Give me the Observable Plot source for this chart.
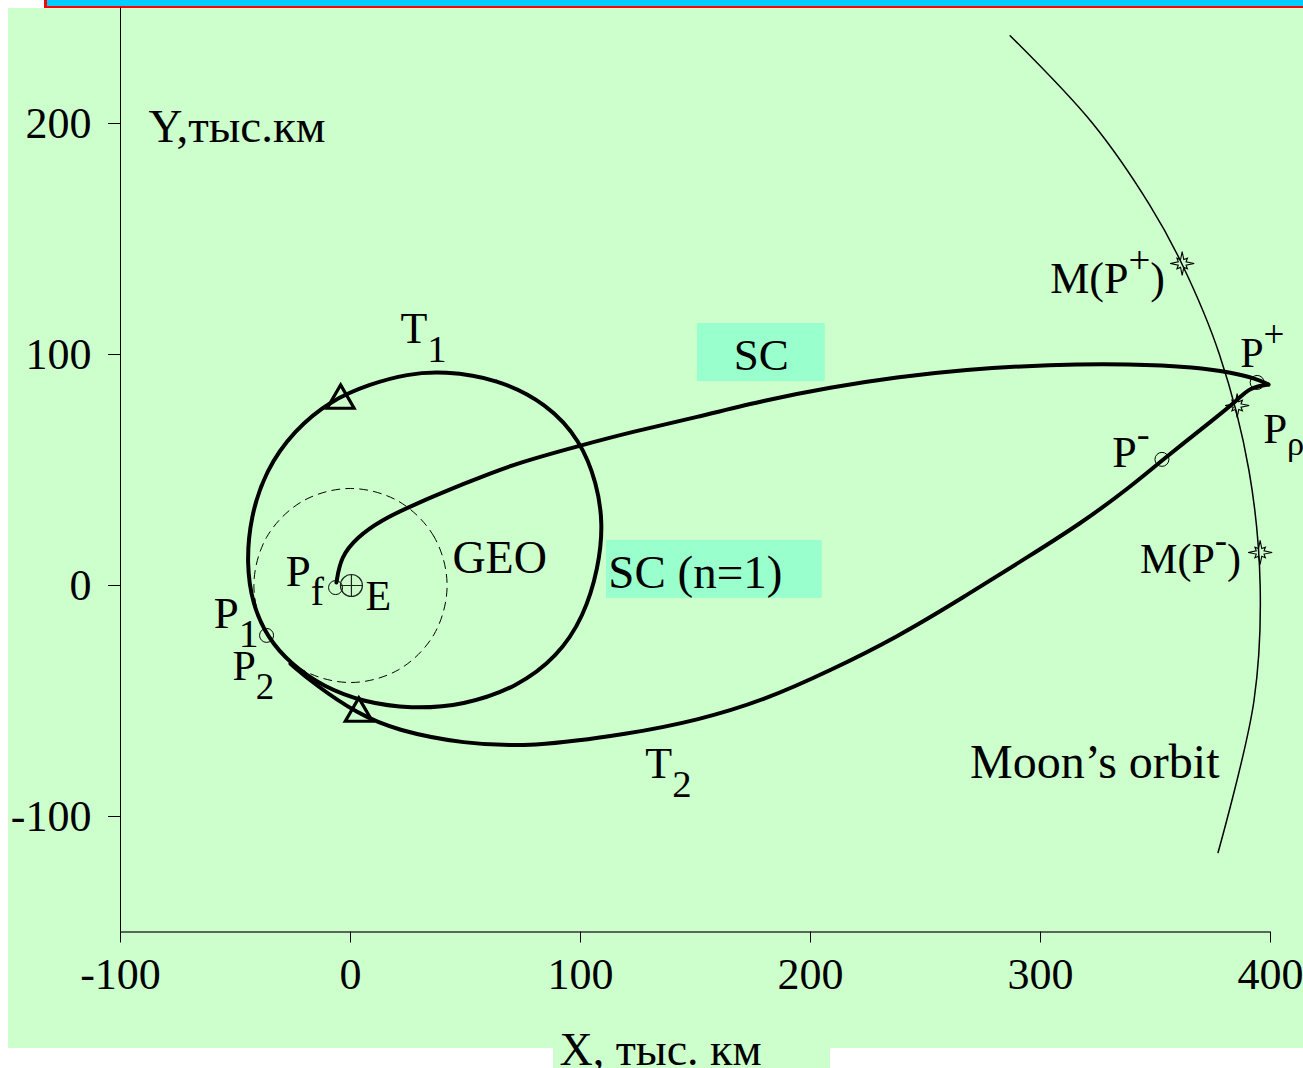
<!DOCTYPE html>
<html><head><meta charset="utf-8">
<script src="https://cdn.jsdelivr.net/npm/d3@7"></script>
<script src="https://cdn.jsdelivr.net/npm/@observablehq/plot@0.6"></script>
<style>
body{margin:0;background:#fff;}
#wrap{position:relative;width:1303px;height:1068px;overflow:hidden;}
#band{position:absolute;left:44px;top:-30px;width:1300px;height:33px;background:#00ccff;border:3px solid #ff0000;}
#panel{position:absolute;left:8px;top:8px;width:1310px;height:1040px;background:#ccffcc;}
#xbox{position:absolute;left:553px;top:1030px;width:277px;height:40px;background:#ccffcc;}
#chart{position:absolute;left:0;top:0;}
</style></head>
<body>
<div id="wrap"><div id="band"></div><div id="panel"></div><div id="xbox"></div><div id="chart"></div></div>
<script>
// ---- axis ticks ----
const xTicks = [-100, 0, 100, 200, 300, 400];
const yTicks = [-100, 0, 100, 200];
const xLabel = "X, тыс. км";

// ---- SC outbound leg (from Pf near Earth to the lunar flyby), thousand km ----
const scX = [-6.1, -4.3, 2.9, 13.0, 27.5, 49.2, 71.0, 100.0, 121.7, 150.7, 179.6, 208.6, 237.6, 266.5, 304.2, 339.0, 368.0, 382.4, 394.0, 399.1];
const scY = [1.3, 12.3, 20.9, 28.1, 35.0, 44.0, 52.7, 60.6, 66.4, 72.9, 80.1, 85.8, 90.2, 93.4, 95.7, 96.0, 94.5, 92.3, 89.5, 87.0];

// ---- T2 return leg (from the flyby back to P2) ----
const t2X = [399.1, 391.1, 385.4, 376.7, 352.8, 339.0, 317.3, 295.5, 266.5, 237.6, 208.6, 179.6, 150.7, 121.7, 78.2, 49.2, 20.3, 2.9, -15.9, -26.1];
const t2Y = [87.0, 85.8, 80.1, 73.0, 54.2, 42.6, 26.7, 13.0, -5.1, -22.4, -36.8, -49.8, -58.4, -64.2, -70.0, -68.5, -62.8, -55.5, -42.6, -33.9];

// ---- T1 closed orbit ----
const t1X = [40.5, 63.8, 85.5, 100.0, 107.2, 109.8, 107.9, 101.4, 89.8, 72.4, 49.2, 26.1, 5.8, -11.6, -26.1, -36.2, -42.7, -45.2, -43.5, -36.9, -24.6, -8.7, 8.7, 24.6];
const t1Y = [92.8, 89.5, 78.7, 62.8, 44.0, 26.7, 7.9, -13.7, -31.0, -44.0, -51.9, -53.4, -50.5, -44.0, -33.9, -22.4, -7.9, 9.4, 29.6, 49.8, 67.1, 80.1, 87.3, 91.6];

// ---- GEO orbit (dashed) ----
const geoX = [42, 36.4, 21, 0, -21, -36.4, -42, -36.4, -21, 0, 21, 36.4];
const geoY = [0, 21, 36.4, 42, 36.4, 21, 0, -21, -36.4, -42, -36.4, -21];

// ---- Moon's orbit arc ----
const moonX = [286.8, 322.7, 347.3, 361.4, 377.8, 390.6, 395.5, 392.8, 377.2];
const moonY = [238.0, 200.0, 165.0, 139.4, 100.0, 50.0, 0.0, -50.0, -115.6];

// ---- point markers ----
const ptCircleX = [-6.5, -36.5, 394.2, 352.8];   // Pf, P1, P+, P-
const ptCircleY = [-0.9, -21.6, 87.9, 54.6];
const starX = [361.6, 385.5, 395.5];             // M(P+), Pρ, M(P-)
const starY = [139.4, 77.9, 14.3];
const triX = [-4.3, 3.6];                        // direction markers on T1, T2
const triY = [80.1, -55.4];
const earthX = [0.4], earthY = [0];

// ---- label boxes ----
const boxX1 = [150.8, 111.3], boxX2 = [206.4, 205.1];
const boxY1 = [88.3, -5.6],   boxY2 = [113.4, 19.5];

// ---- annotations (left-aligned) ----
const labText = ["Y,тыс.км", "T_{1}", "GEO", "P_{f}", "E", "P_{1}", "P_{2}", "T_{2}", "Moon’s orbit", "M(P^{+})", "P^{+}", "P_{ρ}", "P^{-}", "M(P^{-})", "SC (n=1)"];
const labX = [-87.8, 21.7, 44.3, -28.2, 6.5, -59.5, -51.3, 128.2, 269.4, 304.2, 386.8, 396.8, 331.2, 343.3, 112.1];
const labY = [192.2, 104.8, 5.2, 0, -10.8, -18.2, -40.8, -83.5, -83.5, 126.8, 94.4, 61.5, 51.1, 5.2, -0.9];
const labSize = [47, 44, 46, 45, 42, 45, 42, 44, 48, 44, 42, 43, 44, 42, 47];
// ---- centred annotation ----
const scText = ["SC"], scX0 = [178.6], scY0 = [93.5];

const font = "'Liberation Serif','Times New Roman',serif";
const pts = (X, Y) => X.map((x, i) => ({x, y: Y[i]}));

const star8 = {
  draw(ctx, size) {
    const R = Math.sqrt(size / Math.PI);
    for (let i = 0; i < 16; i++) {
      const a = i * Math.PI / 8 - Math.PI / 2;
      const rr = i % 2 ? R * 0.35 : (i % 4 === 0 ? R : R * 0.62);
      const px = rr * Math.cos(a), py = rr * Math.sin(a);
      if (i === 0) ctx.moveTo(px, py); else ctx.lineTo(px, py);
    }
    ctx.closePath();
  }
};
const earthSym = {
  draw(ctx, size) {
    const R = Math.sqrt(size / Math.PI);
    ctx.moveTo(R, 0); ctx.arc(0, 0, R, 0, 2 * Math.PI);
    ctx.moveTo(-R, 0); ctx.lineTo(R, 0);
    ctx.moveTo(0, -R); ctx.lineTo(0, R);
  }
};

const labels = labText.map((t, i) => ({t, x: labX[i], y: labY[i], s: labSize[i]}));
const boxes = boxX1.map((x1, i) => ({x1, x2: boxX2[i], y1: boxY1[i], y2: boxY2[i]}));
const scLabels = scText.map((t, i) => ({t, x: scX0[i], y: scY0[i]}));

const fmt = (d) => String(d);
const plot = Plot.plot({
  width: 1303, height: 1068,
  marginLeft: 120, marginRight: 33, marginTop: 7.5, marginBottom: 136.5,
  x: {domain: [-100, 400]},
  y: {domain: [-150, 250]},
  style: {background: "transparent", fontFamily: font, color: "#000", overflow: "visible"},
  marks: [
    Plot.rect(boxes, {x1: "x1", x2: "x2", y1: "y1", y2: "y2", fill: "#99ffcc"}),
    Plot.ruleX([-100], {stroke: "#000", strokeWidth: 1}),
    Plot.ruleY([-150], {stroke: "#333", strokeWidth: 1.6}),
    Plot.axisX(xTicks, {tickSize: 11, tickPadding: 15, fontSize: 44, tickFormat: fmt, label: null, fontFamily: font}),
    Plot.axisY(yTicks, {tickSize: 12, tickPadding: 17, fontSize: 44, tickFormat: fmt, label: null, fontFamily: font}),
    Plot.line(pts(geoX, geoY), {x: "x", y: "y", curve: "catmull-rom-closed", stroke: "#000", strokeWidth: 1, strokeDasharray: "8,6"}),
    Plot.line(pts(moonX, moonY), {x: "x", y: "y", curve: "catmull-rom", stroke: "#000", strokeWidth: 1.5}),
    Plot.line(pts(t1X, t1Y), {x: "x", y: "y", curve: "basis-closed", stroke: "#000", strokeWidth: 4}),
    Plot.line(pts(scX, scY), {x: "x", y: "y", curve: "basis", stroke: "#000", strokeWidth: 4, strokeLinecap: "round"}),
    Plot.line(pts(t2X, t2Y), {x: "x", y: "y", curve: "basis", stroke: "#000", strokeWidth: 4, strokeLinecap: "round"}),
    Plot.dot(pts(ptCircleX, ptCircleY), {x: "x", y: "y", r: 7, stroke: "#000", strokeWidth: 1, fill: "none"}),
    Plot.dot(pts(earthX, earthY), {x: "x", y: "y", r: 11, symbol: earthSym, stroke: "#222", strokeWidth: 1.2, fill: "none"}),
    Plot.dot(pts(starX, starY), {x: "x", y: "y", r: 12, symbol: star8, stroke: "#000", strokeWidth: 1.1, fill: "none"}),
    Plot.dot(pts(triX, triY), {x: "x", y: "y", r: 10, symbol: "triangle", stroke: "#000", strokeWidth: 3.2, fill: "none"}),
    Plot.text(labels, {x: "x", y: "y", text: "t", fontSize: "s", textAnchor: "start", lineAnchor: "bottom", fill: "#000", fontFamily: font}),
    Plot.text(scLabels, {x: "x", y: "y", text: "t", fontSize: 45, textAnchor: "middle", lineAnchor: "bottom", fill: "#000", fontFamily: font}),
    Plot.text([xLabel], {frameAnchor: "bottom", dx: -35, dy: 133, lineAnchor: "bottom", fontSize: 46, fill: "#000", fontFamily: font})
  ]
});

// render sub/superscripts as tspans
plot.querySelectorAll("text").forEach((t) => {
  const s = t.textContent;
  if (!/[_^]\{/.test(s)) return;
  const fs = parseFloat(t.getAttribute("font-size")) || 44;
  t.textContent = "";
  const re = /([_^])\{([^}]*)\}/g;
  let last = 0, off = 0, m;
  const add = (txt, dy, size) => {
    const ts = document.createElementNS("http://www.w3.org/2000/svg", "tspan");
    ts.textContent = txt;
    if (dy) ts.setAttribute("dy", dy);
    if (size) ts.setAttribute("font-size", size);
    t.appendChild(ts);
  };
  while ((m = re.exec(s))) {
    if (m.index > last) { add(s.slice(last, m.index), -off || null, null); off = 0; }
    const isRho = m[2] === "ρ";
    const sh = m[1] === "_" ? (isRho ? 12 : 19) : -20;
    add(m[2], sh, isRho ? fs * 0.8 : fs * 0.88);
    off = sh;
    last = re.lastIndex;
  }
  if (last < s.length) add(s.slice(last), -off || null, null);
});

document.getElementById("chart").appendChild(plot);
</script>
</body></html>
